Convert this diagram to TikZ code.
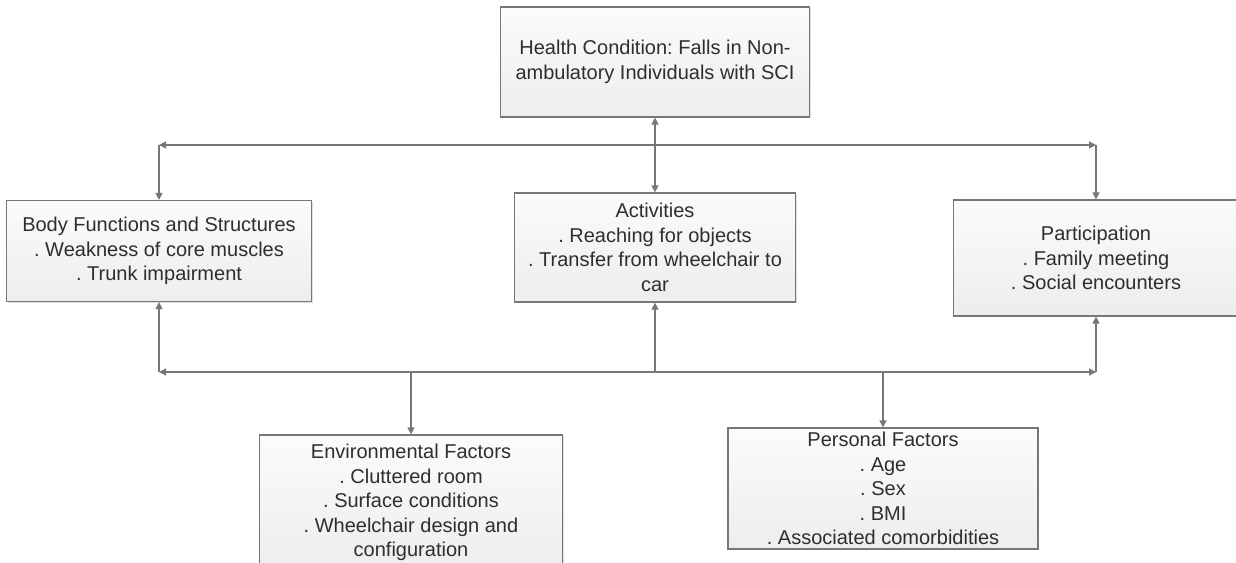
\documentclass[tikz,border=0pt]{standalone}
\usepackage{fontspec}
\setmainfont{Liberation Sans}
\usetikzlibrary{arrows.meta, shadows}
\definecolor{linegray}{HTML}{777777}
\definecolor{textgray}{HTML}{2E2E2E}
\frenchspacing
\begin{document}
\begin{tikzpicture}[x=1pt, y=-1pt]
\tikzstyle{box} = [rectangle, draw=linegray, line width=1.2pt, top color=gray!3, bottom color=gray!14, text=textgray, align=center, font=\fontsize{20}{24.5}\selectfont, inner sep=0pt, drop shadow={shadow xshift=1.2pt, shadow yshift=-1.2pt, opacity=0.25}]
\tikzstyle{arrow} = [draw=linegray, line width=1.2pt, -{Triangle[length=7pt, width=7pt]}]
\tikzstyle{twoway} = [draw=linegray, line width=1.2pt, {Triangle[length=7pt, width=7pt]}-{Triangle[length=7pt, width=7pt]}]
\useasboundingbox (0,0) rectangle (1236,562);
\fill[white] (0,0) rectangle (1236,562);
% Nodes
\node (health) [box, minimum width=309pt, minimum height=110pt] at (655,62) {Health Condition: Falls in Non-\\ambulatory Individuals with SCI};
\node (body) [box, minimum width=305pt, minimum height=101pt] at (159,251) {Body Functions and Structures\\. Weakness of core muscles\\. Trunk impairment};
\node (activ) [box, minimum width=281pt, minimum height=109pt] at (655,247.5) {Activities\\. Reaching for objects\\. Transfer from wheelchair to\\car};
\node (partic) [box, minimum width=285pt, minimum height=116pt] at (1096,258) {Participation\\. Family meeting\\. Social encounters};
\node (envir) [box, minimum width=303pt, minimum height=135pt] at (411,502.5) {Environmental Factors\\. Cluttered room\\. Surface conditions\\. Wheelchair design and\\configuration};
\node (person) [box, minimum width=310pt, minimum height=121pt] at (883,488.5) {Personal Factors\\. Age\\. Sex\\. BMI\\. Associated comorbidities};

% Junction points
\coordinate (topL) at (159,145);
\coordinate (topR) at (1096,145);
\coordinate (botL) at (159,372);
\coordinate (botR) at (1096,372);
\coordinate (botM) at (655,372);
\coordinate (botE) at (411,372);
\coordinate (botP) at (883,372);

% Arrows
\draw [twoway] (topL) -- (topR);
\draw [arrow] (topL) -- (body.north);
\draw [arrow] (topR) -- (partic.north);
\draw [twoway] (health.south) -- (activ.north);
\draw [twoway] (botL) -- (botR);
\draw [arrow] (botL) -- (body.south);
\draw [arrow] (botM) -- (activ.south);
\draw [arrow] (botR) -- (partic.south);
\draw [arrow] (botE) -- (envir.north);
\draw [arrow] (botP) -- (person.north);

\end{tikzpicture}
\end{document}
